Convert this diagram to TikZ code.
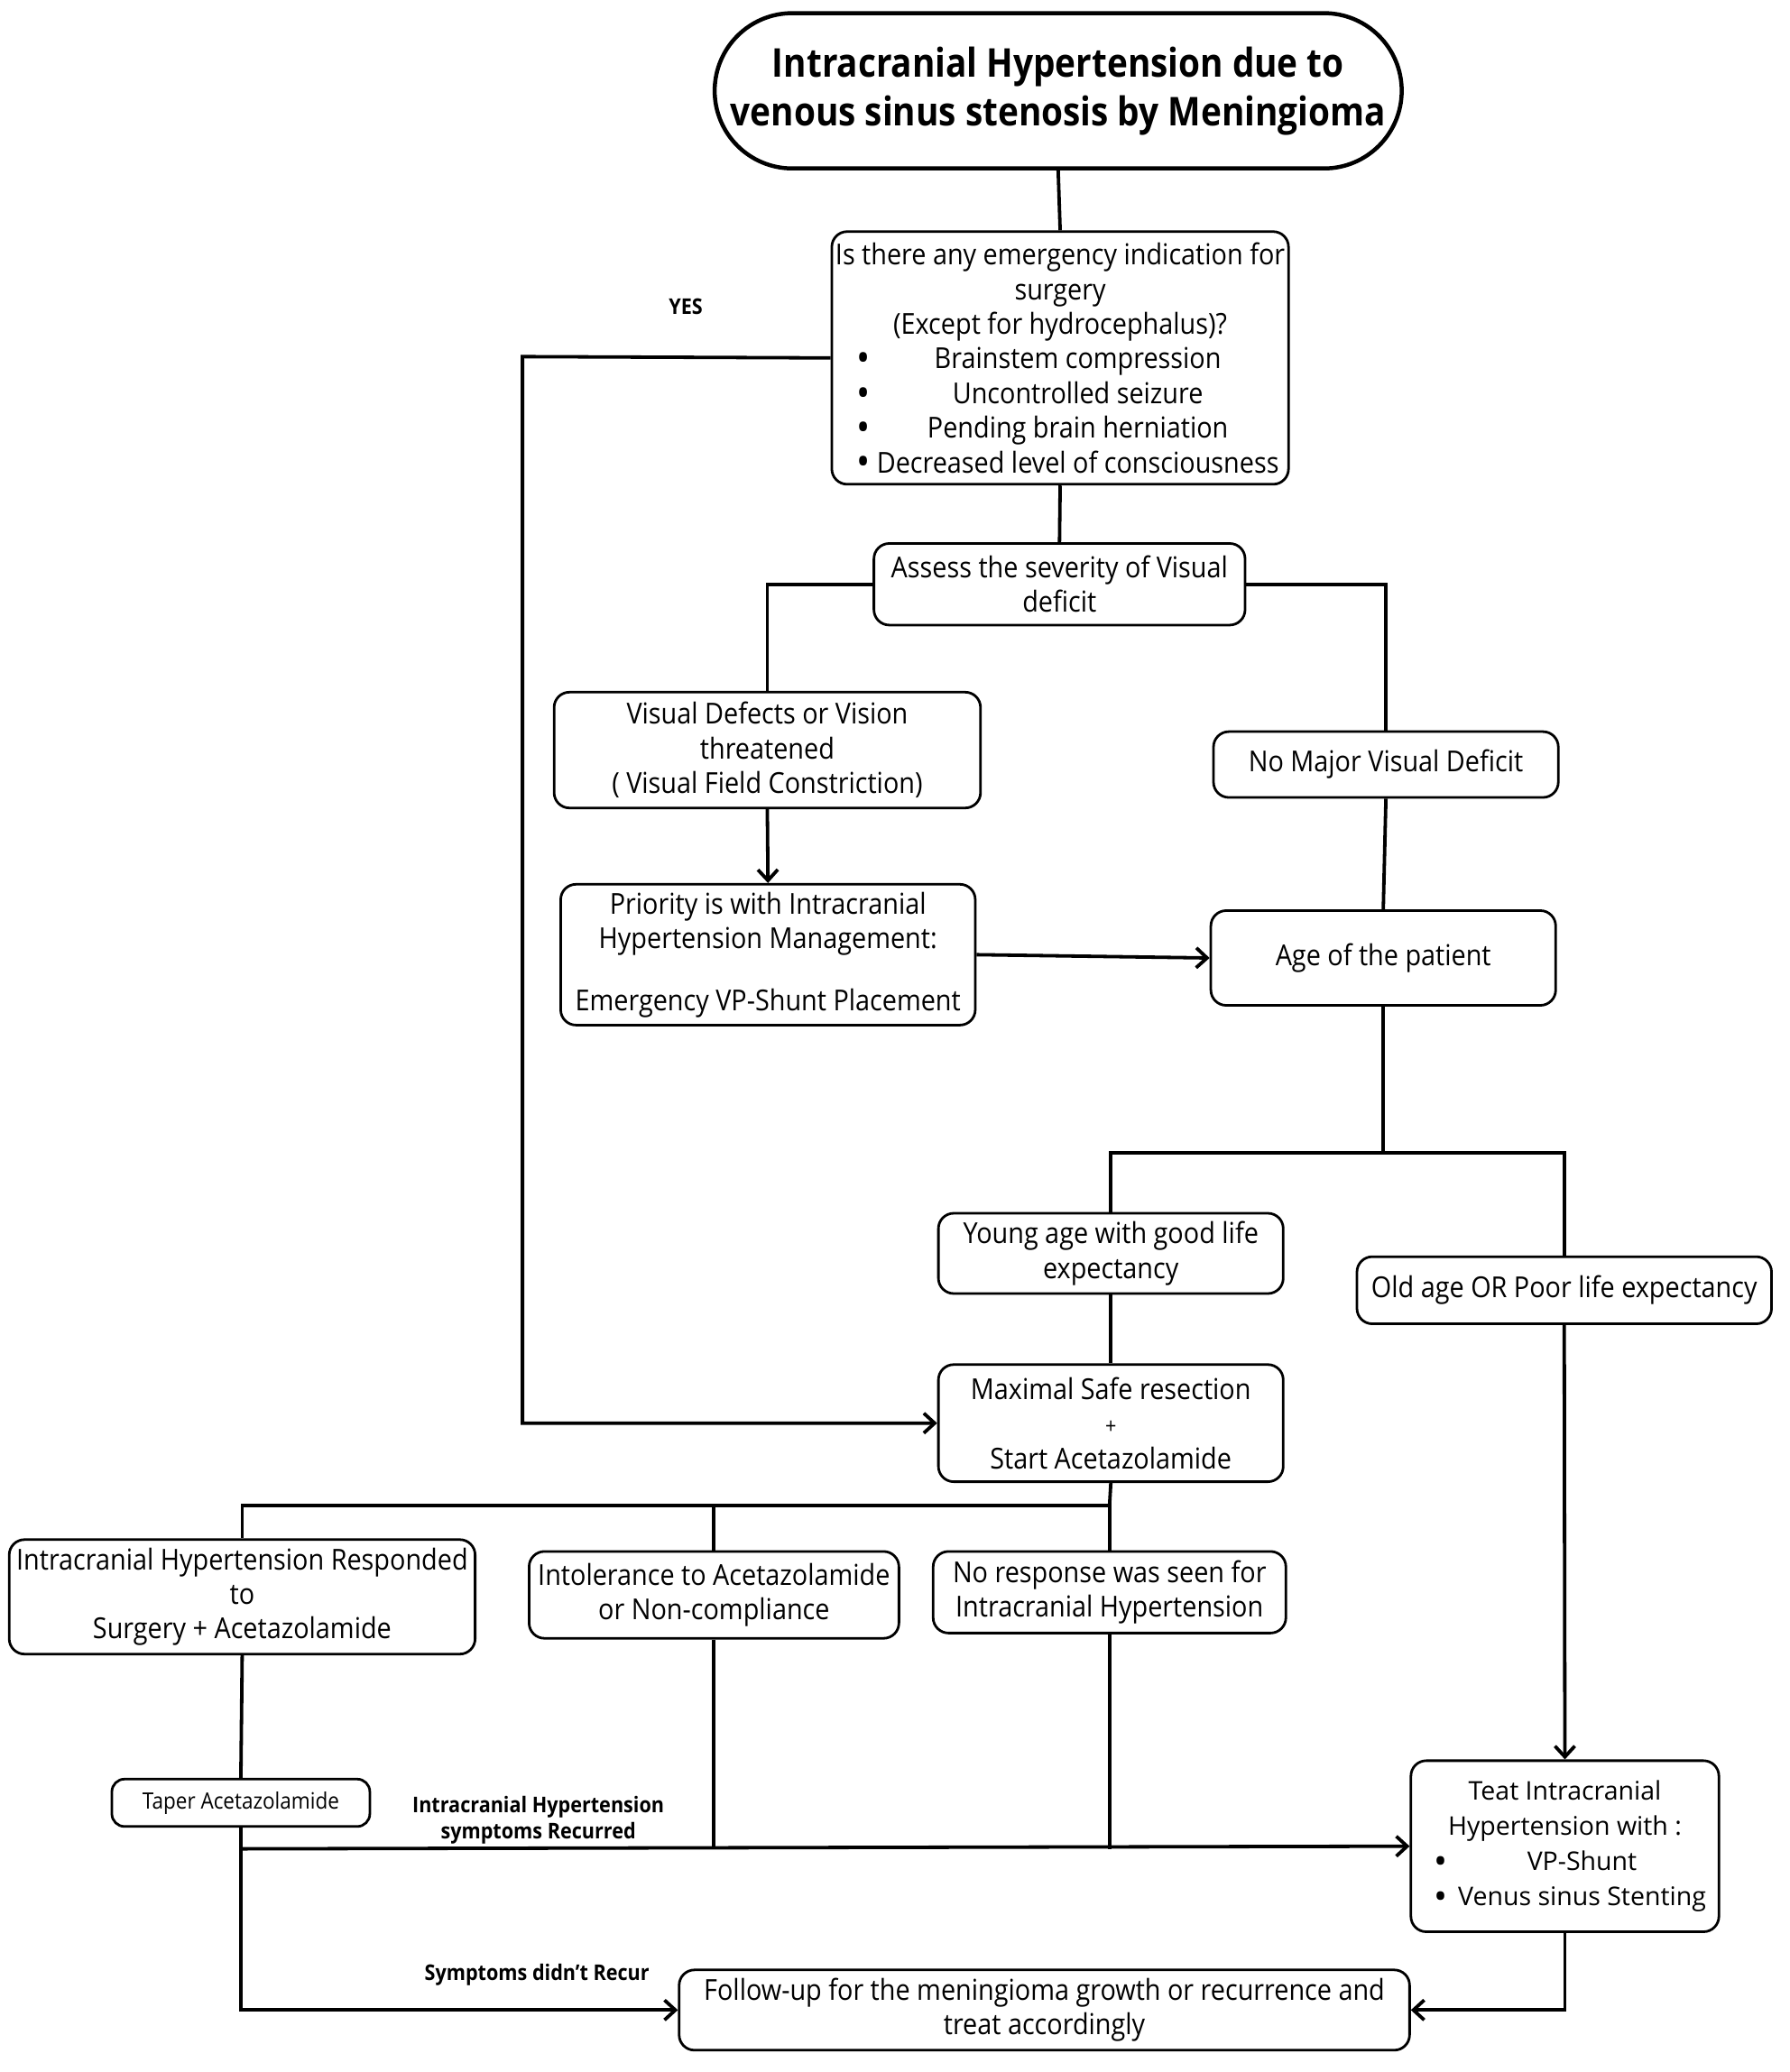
\documentclass[tikz,border=0pt]{standalone}
\usepackage{fontspec}
\setmainfont{Open Sans}
\newfontfamily\cnd[FakeStretch=0.9]{Open Sans}
\newfontfamily\ttlf[FakeStretch=0.88]{Open Sans}
\usetikzlibrary{arrows.meta}
\newcommand\bigbul{\smash{\raisebox{-0.12em}{\scalebox{1.4}{\textbullet}}}}
\newcommand\bitem[3]{\makebox[#1][l]{\hspace*{#2}\bigbul\hfill#3\hfill}}
\tikzset{
  box/.style={draw, line width=2.8pt, rounded corners=17pt, align=center, inner sep=0pt,
    font=\cnd\fontsize{32}{38.4}\selectfont},
  sz/.style 2 args={minimum width=#1*1.4588pt, minimum height=#2*1.4588pt},
  conn/.style={line width=3.8pt},
  arr/.style={conn, -{Straight Barb[length=12pt,width=22pt]}},
  lbl/.style={font=\cnd\bfseries\fontsize{24}{29}\selectfont, align=center, inner sep=0pt},
}
\begin{document}
\begin{tikzpicture}[x=1.4588pt, y=-1.4588pt]
\useasboundingbox[fill=white] (0,0) rectangle (1360,1574.6);

% nodes
\node[draw, line width=4.5pt, rounded corners=86pt, sz={522}{118}, align=center, inner sep=0pt,
  font=\ttlf\bfseries\fontsize{44}{54}\selectfont] (title) at (804,69)
  {Intracranial Hypertension due to\\venous sinus stenosis by Meningioma};

\node[box, sz={347}{192}] (q) at (805.5,272)
  {Is there any emergency indication for\\surgery\\(Except for hydrocephalus)?\\
   \bitem{500pt}{24pt}{Brainstem compression}\\
   \bitem{500pt}{24pt}{Uncontrolled seizure}\\
   \bitem{500pt}{24pt}{Pending brain herniation}\\
   \bitem{500pt}{24pt}{Decreased level of consciousness}};

\node[box, sz={282}{62}] (assess) at (805,444) {Assess the severity of Visual\\deficit};
\node[box, sz={324}{88}] (vis) at (583,570)
  {Visual Defects or Vision\\threatened\\( Visual Field Constriction)};
\node[box, sz={315}{107}] (prio) at (583.5,725.5)
  {Priority is with Intracranial\\Hypertension Management:\\[30pt]Emergency VP-Shunt Placement};
\node[box, sz={262}{50}] (nomaj) at (1053,581) {No Major Visual Deficit};
\node[box, sz={262}{72}] (age) at (1051,728) {Age of the patient};
\node[box, sz={262}{61}] (young) at (844,952.5) {Young age with good life\\expectancy};
\node[box, sz={315}{51}] (old) at (1188.5,980.5) {Old age OR Poor life expectancy};
\node[box, sz={262}{89}] (maxi) at (844,1081.5)
  {Maximal Safe resection\\{\fontsize{24}{24}\selectfont +}\\Start Acetazolamide};
\node[box, sz={354}{87}] (resp) at (184,1213.5)
  {Intracranial Hypertension Responded\\to\\Surgery + Acetazolamide};
\node[box, sz={281}{66}] (intol) at (542.5,1212) {Intolerance to Acetazolamide\\or Non-compliance};
\node[box, sz={268}{62}] (nores) at (843,1210) {No response was seen for\\Intracranial Hypertension};
\node[box, sz={196}{36}, rounded corners=14pt, font=\cnd\fontsize{25}{30}\selectfont] (taper) at (183,1370)
  {Taper Acetazolamide};
\node[box, sz={234}{130}, font=\fontsize{28.5}{39}\selectfont] (teat) at (1189,1403)
  {Teat Intracranial\\Hypertension with :\\
   \bitem{336pt}{23pt}{VP-Shunt}\\
   \bitem{336pt}{23pt}{Venus sinus Stenting}};
\node[box, sz={555}{61}] (follow) at (793.5,1527.5)
  {Follow-up for the meningioma growth or recurrence and\\treat accordingly};

% labels
\node[lbl] (yes) at (521,233) {YES};
\node[lbl] (rec) at (409,1383) {Intracranial Hypertension\\symptoms Recurred};
\node[lbl] (norec) at (408,1501) {Symptoms didn’t Recur};

% coordinates
\coordinate (yl) at (397,271);
\coordinate (ab) at (1051,876);
\coordinate (mb) at (843,1144);
\coordinate (rl) at (183,1405);

% connectors
\draw[conn] (title.south) -- (q.north);
\draw[arr] (q.west) -- (yl) |- (maxi.west);
\draw[conn] (q.south) -- (assess.north);
\draw[conn] (assess.west) -| (vis.north);
\draw[conn] (assess.east) -| (nomaj.north);
\draw[arr] (vis.south) -- (prio.north);
\draw[arr] (prio.east) -- (age.west);
\draw[conn] (nomaj.south) -- (age.north);
\draw[conn] (age.south) -- (ab);
\draw[conn] (young.north) |- (ab) -| (old.north);
\draw[conn] (young.south) -- (maxi.north);
\draw[arr] (old.south) -- (teat.north);
\draw[conn] (maxi.south) -- (mb);
\draw[conn] (resp.north) |- (mb) -- (nores.north);
\draw[conn] (intol.north) -- (intol.north |- mb);
\draw[conn] (resp.south) -- (taper.north);
\draw[arr] (taper.south) |- (follow.west);
\draw[arr] (rl) -- (teat.west);
\draw[conn] (intol.south) -- (intol.south |- rl);
\draw[conn] (nores.south) -- (nores.south |- rl);
\draw[arr] (teat.south) |- (follow.east);
\end{tikzpicture}
\end{document}
